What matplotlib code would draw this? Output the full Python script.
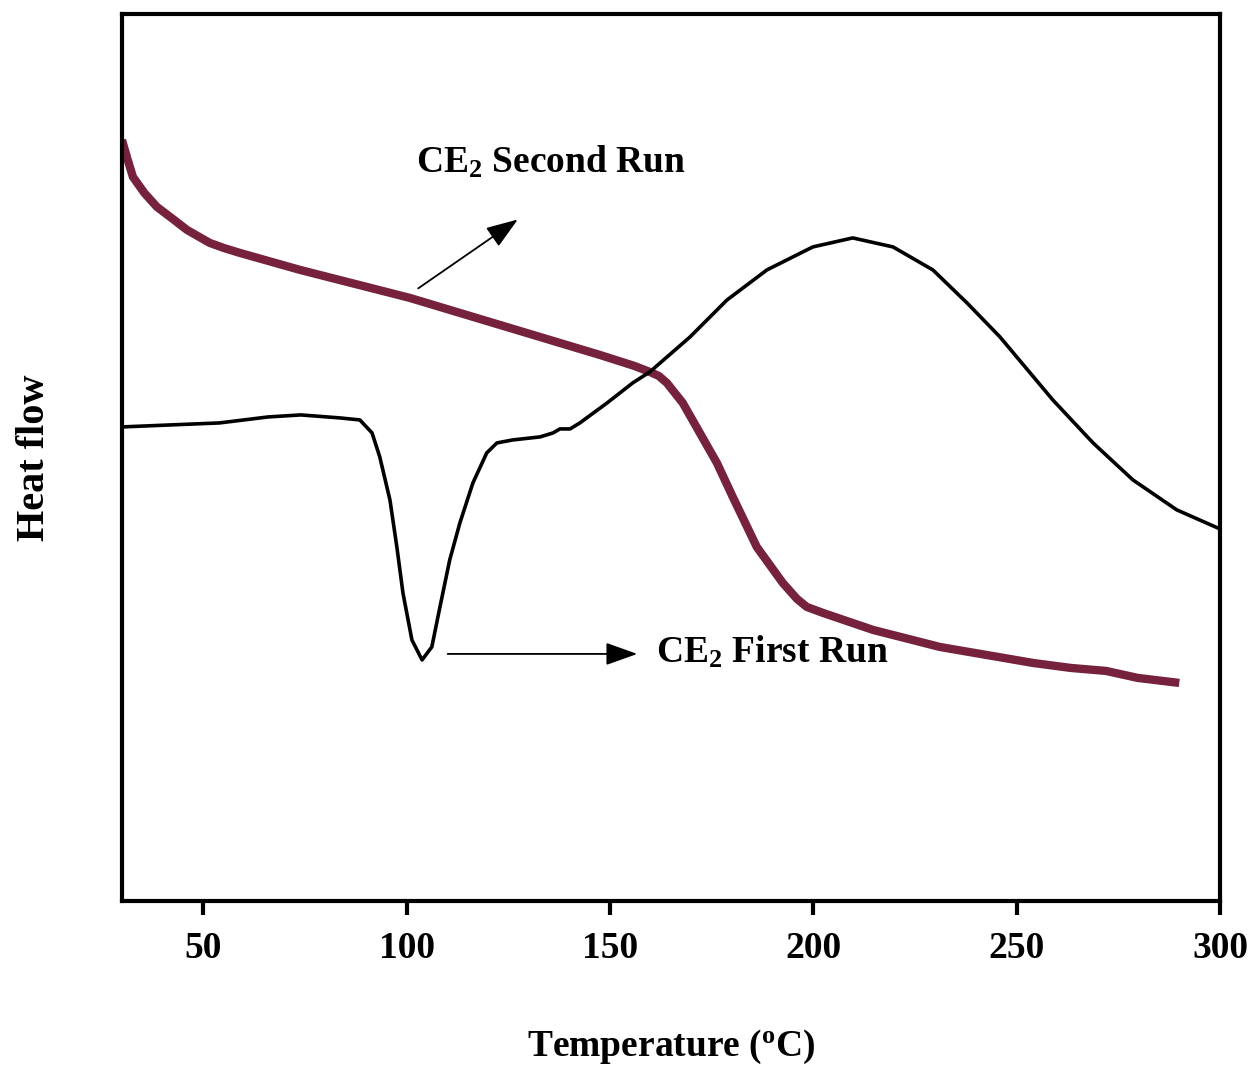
import matplotlib.pyplot as plt

plt.rcParams['font.family'] = ['Liberation Serif', 'DejaVu Serif']
plt.rcParams['font.weight'] = 'bold'
plt.rcParams['mathtext.fontset'] = 'custom'
plt.rcParams['mathtext.rm'] = 'Liberation Serif:bold'
plt.rcParams['mathtext.bf'] = 'Liberation Serif:bold'
plt.rcParams['mathtext.it'] = 'Liberation Serif:bold'
plt.rcParams['mathtext.default'] = 'bf'

# First run (black) - temperature (C) and heat flow (a.u.)
t_first = [30, 54, 66, 74, 83.6, 88.5, 91.5, 93.4, 95.9, 97.6, 99.1, 101.3,
           103.8, 106.2, 108.2, 110.6, 113.1, 116.3, 119.7, 122.2, 126.1,
           132.8, 136.0, 137.7, 140.2, 142.6, 149.3, 155.6, 159.8, 169.7,
           178.8, 188.6, 199.9, 209.7, 219.6, 229.4, 237.8, 245.9, 258.9,
           268.8, 278.6, 289.4, 300]
hf_first = [47.4, 47.8, 48.4, 48.6, 48.3, 48.1, 46.8, 44.4, 40.1, 35.4, 30.8,
            26.1, 24.1, 25.4, 29.4, 34.1, 37.8, 41.8, 44.8, 45.8, 46.1, 46.4,
            46.8, 47.2, 47.2, 47.8, 49.8, 51.8, 52.9, 56.4, 60.1, 63.1, 65.4,
            66.3, 65.4, 63.1, 59.8, 56.4, 50.1, 45.8, 42.1, 39.1, 37.2]

# Second run (maroon)
t_second = [30, 31.5, 32.7, 35.5, 38.6, 42.5, 46.0, 49.0, 51.6, 55.0, 59.0,
            73.8, 90.2, 100.8, 147.5, 156.0, 159.8, 162.0, 164.0, 167.9,
            172.1, 176.3, 180.2, 186.1, 192.5, 196.0, 198.4, 202.4,
            214.7, 231.1, 254.0, 263.3, 272.0, 279.8, 290.0]
hf_second = [76.1, 74.0, 72.4, 70.8, 69.4, 68.2, 67.1, 66.4, 65.8, 65.3, 64.8,
             63.1, 61.4, 60.3, 54.6, 53.5, 52.9, 52.5, 51.8, 49.8, 46.8, 43.8,
             40.4, 35.4, 31.8, 30.2, 29.4, 28.8, 27.1, 25.4, 23.8, 23.3,
             23.0, 22.3, 21.8]

xticks = [50, 100, 150, 200, 250, 300]

fig = plt.figure(figsize=(12.52, 10.70), dpi=100)
ax = fig.add_axes([0.0974, 0.158, 0.877, 0.829])

ax.plot(t_second, hf_second, color='#76223D', lw=6, solid_capstyle='butt',
        solid_joinstyle='round')
ax.plot(t_first, hf_first, color='black', lw=2.6, solid_joinstyle='round')

ax.annotate('', xy=(127.9, 68.3), xytext=(102.3, 61.1),
            arrowprops=dict(arrowstyle='-|>,head_length=0.7,head_width=0.25',
                            color='black', lw=1.3, mutation_scale=28))
ax.annotate('', xy=(157.4, 24.7), xytext=(109.4, 24.7),
            arrowprops=dict(arrowstyle='-|>,head_length=0.7,head_width=0.25',
                            color='black', lw=1.3, mutation_scale=28))
ax.text(102.3, 73.9, r'CE$_2$ Second Run', fontsize=27, fontweight='bold',
        va='center', ha='left')
ax.text(161.3, 24.9, r'CE$_2$ First Run', fontsize=27, fontweight='bold',
        va='center', ha='left')

ax.set_xlim(30, 300)
ax.set_ylim(0, 88.7)
ax.set_xticks(xticks)
ax.set_yticks([])
ax.tick_params(axis='x', direction='out', length=10, width=3, pad=12,
               labelsize=27)
for lab in ax.get_xticklabels():
    lab.set_fontweight('bold')
for sp in ax.spines.values():
    sp.set_linewidth(3)

ax.set_xlabel(r'Temperature ($^o$C)', fontsize=27, fontweight='bold',
              labelpad=44)
ax.set_ylabel('Heat flow', fontsize=29, fontweight='bold', labelpad=50)

fig.savefig('out.png', dpi=100)
